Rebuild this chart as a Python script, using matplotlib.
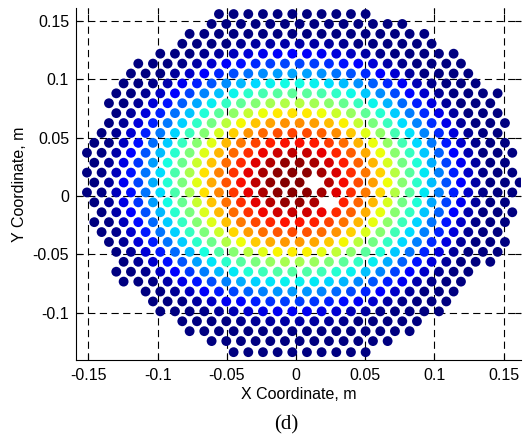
import numpy as np
import matplotlib
matplotlib.use('Agg')
import matplotlib.pyplot as plt

# Rows of pebbles: y of row, leftmost x, rightmost x
row_y = [0.156, 0.1475, 0.139, 0.1305, 0.122, 0.1135, 0.105, 0.0965, 0.088, 0.0795,
         0.071, 0.0625, 0.054, 0.0455, 0.037, 0.0285, 0.020, 0.0115, 0.003, -0.0055,
         -0.014, -0.0225, -0.031, -0.0395, -0.048, -0.0565, -0.065, -0.0735, -0.082,
         -0.0905, -0.099, -0.1075, -0.116, -0.1245, -0.134]
row_xl = [-0.056, -0.064, -0.082, -0.087, -0.103, -0.113, -0.120, -0.124, -0.129, -0.136,
          -0.131, -0.138, -0.143, -0.143, -0.147, -0.144, -0.147, -0.146, -0.149, -0.144,
          -0.139, -0.142, -0.142, -0.137, -0.132, -0.128, -0.125, -0.120, -0.105,
          -0.100, -0.095, -0.080, -0.075, -0.061, -0.046]
row_xr = [0.051, 0.076, 0.090, 0.095, 0.111, 0.115, 0.120, 0.135, 0.144, 0.145,
          0.147, 0.147, 0.150, 0.156, 0.155, 0.156, 0.158, 0.157, 0.157, 0.155,
          0.153, 0.150, 0.150, 0.148, 0.145, 0.138, 0.128, 0.122, 0.114,
          0.108, 0.102, 0.090, 0.086, 0.068, 0.048]
pitch = 0.0106

# empty spots near the centre
holes = [(0.008, 0.014), (0.028, -0.003)]

# colour value against distance from the core centre
centre = (-0.002, 0.012)
y_stretch = 1.1
prof_r = [0.0, 0.02, 0.03, 0.04, 0.05, 0.06, 0.07, 0.08, 0.09, 0.1, 0.11, 0.12, 0.13, 0.14]
prof_v = [1.0, 0.98, 0.93, 0.88, 0.81, 0.72, 0.62, 0.50, 0.40, 0.31, 0.21, 0.12, 0.04, 0.0]

xs, ys = [], []
for i, (y, xl, xr) in enumerate(zip(row_y, row_xl, row_xr)):
    off = (i % 2) * pitch / 2 - 0.0027
    start = np.round((xl - off) / pitch) * pitch + off
    n = int(np.round((xr - start) / pitch)) + 1
    for k in range(n):
        xs.append(start + k * pitch)
        ys.append(y)
xs = np.array(xs)
ys = np.array(ys)

keep = np.ones(len(xs), dtype=bool)
for hx, hy in holes:
    d = np.hypot(xs - hx, ys - hy)
    keep[np.argmin(np.where(keep, d, np.inf))] = False
xs, ys = xs[keep], ys[keep]

r = np.hypot(xs - centre[0], (ys - centre[1]) * y_stretch)
vals = np.interp(r, prof_r, prof_v)

plt.rcParams['font.family'] = ['Liberation Sans', 'DejaVu Sans']

fig = plt.figure(figsize=(5.29, 4.43), dpi=100)
ax = fig.add_axes([0.1437, 0.1874, 0.8412, 0.7946])
ax.scatter(xs, ys, c=vals, cmap='jet', vmin=0, vmax=1, s=50, linewidths=0, zorder=3)

ax.set_xlim(-0.159, 0.1626)
ax.set_ylim(-0.1407, 0.1612)
ax.set_xticks([-0.15, -0.1, -0.05, 0, 0.05, 0.1, 0.15])
ax.set_xticklabels(['-0.15', '-0.1', '-0.05', '0', '0.05', '0.1', '0.15'])
ax.set_yticks([-0.1, -0.05, 0, 0.05, 0.1, 0.15])
ax.set_yticklabels(['-0.1', '-0.05', '0', '0.05', '0.1', '0.15'])
ax.tick_params(direction='in', top=True, right=True, labelsize=11.5, length=4, width=0.8)
ax.tick_params(axis='x', pad=6)
ax.tick_params(axis='y', pad=5)
ax.grid(True, color='black', linestyle=(0, (6.5, 4)), linewidth=0.8)
ax.set_axisbelow(True)
for side in ['top', 'right']:
    ax.spines[side].set_visible(False)

ax.set_xlabel('X Coordinate, m', fontsize=11.5, labelpad=3)
ax.set_ylabel('Y Coordinate, m', fontsize=11.5, labelpad=4)
fig.text(0.541, 0.04, '(d)', fontsize=15, family='Liberation Serif', ha='center', va='center')

fig.savefig('out.png', dpi=100)
